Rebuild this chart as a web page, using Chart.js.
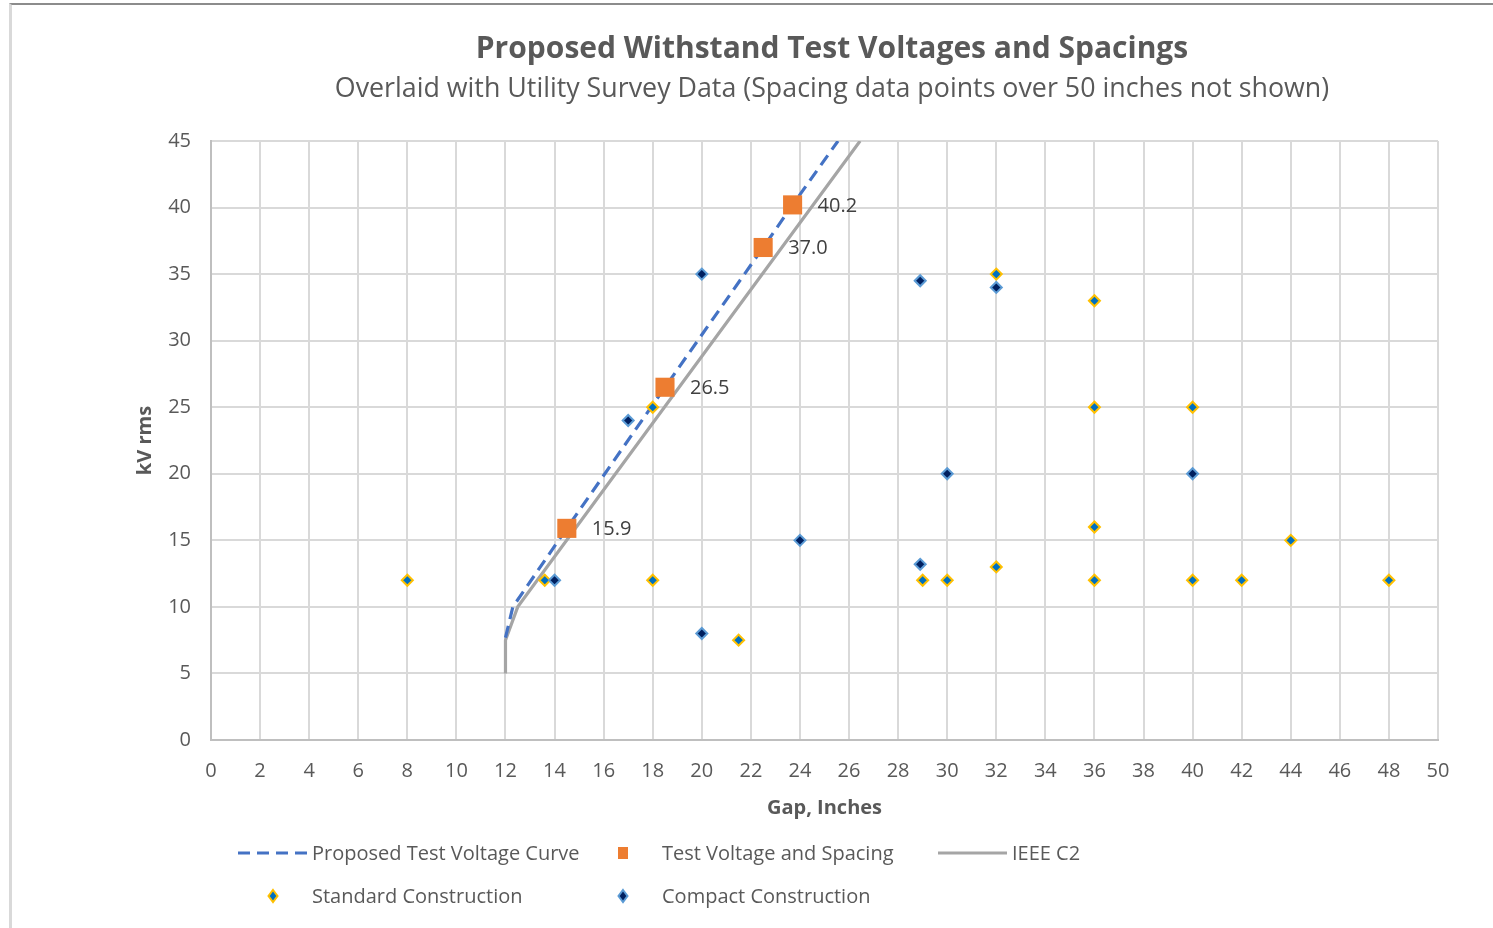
<!DOCTYPE html>
<html>
<head>
<meta charset="utf-8">
<title>Proposed Withstand Test Voltages and Spacings</title>
<script src="https://cdn.jsdelivr.net/npm/chart.js@4.4.0/dist/chart.umd.min.js"></script>
<style>
    html, body { margin: 0; padding: 0; background: #fff; }
    #wrap { position: absolute; left: 0; top: 0; width: 1493px; height: 928px; }
    #frame { position: absolute; left: 9px; top: 3px; right: 0; bottom: 0;
             border-top: 2px solid #8c8c8c; border-left: 3px solid #d9d9d9; }
    canvas { position: absolute; left: 0; top: 0; }
</style>
</head>
<body>
<div id="wrap">
    <div id="frame"></div>
    <canvas id="chart" width="1493" height="928"></canvas>
</div>
<script>
// ---- data ----
const proposedGap = [12, 12.3, 14.5, 18.5, 22.5, 23.7, 25.55];
const proposedKv  = [7.7, 10, 15.9, 26.5, 37.0, 40.2, 45];

const testGap = [14.5, 18.5, 22.5, 23.7];
const testKv  = [15.9, 26.5, 37.0, 40.2];

const ieeeGap = [12, 12, 12.5, 26.45];
const ieeeKv  = [5, 7.5, 10, 45];

const standardGap = [8, 13.6, 18, 18, 21.5, 29, 30, 32, 32, 36, 36, 36, 36, 40, 40, 42, 44, 48];
const standardKv  = [12, 12, 25, 12, 7.5, 12, 12, 35, 13, 33, 25, 16, 12, 25, 12, 12, 15, 12];

const compactGap = [14, 17, 20, 20, 24, 28.9, 28.9, 30, 32, 40];
const compactKv  = [12, 24, 35, 8, 15, 34.5, 13.2, 20, 34, 20];

const chartTitle = 'Proposed Withstand Test Voltages and Spacings';
const chartSubtitle = 'Overlaid with Utility Survey Data (Spacing data points over 50 inches not shown)';

const toPoints = (xs, ys) => xs.map((x, i) => ({ x: x, y: ys[i] }));

const FONT = "'Open Sans', 'Noto Sans', sans-serif";
const TEXT = '#595959';

// titles, data labels and the two-row legend
const decorations = {
    id: 'decorations',
    afterDatasetsDraw(chart) {
        const ctx = chart.ctx;
        ctx.save();
        // value labels next to the orange squares
        ctx.font = '20px ' + FONT;
        ctx.fillStyle = '#404040';
        ctx.textAlign = 'left';
        ctx.textBaseline = 'middle';
        chart.getDatasetMeta(1).data.forEach((el, i) => {
            ctx.fillText(testKv[i].toFixed(1), el.x + 25, el.y + 1);
        });
        ctx.restore();
    },
    afterDraw(chart) {
        const ctx = chart.ctx;
        ctx.save();
        ctx.fillStyle = TEXT;
        ctx.textAlign = 'center';
        ctx.textBaseline = 'middle';
        ctx.font = 'bold 30px ' + FONT;
        ctx.fillText(chartTitle, 832, 49);
        ctx.font = '26.8px ' + FONT;
        ctx.fillText(chartSubtitle, 832, 89);

        // legend (grid like the original)
        const cols = [238, 588, 938];
        const rows = [853, 896];
        const items = [
            { ds: 0, col: 0, row: 0, kind: 'line' },
            { ds: 1, col: 1, row: 0, kind: 'square' },
            { ds: 2, col: 2, row: 0, kind: 'line' },
            { ds: 3, col: 0, row: 1, kind: 'diamond' },
            { ds: 4, col: 1, row: 1, kind: 'diamond' }
        ];
        items.forEach(it => {
            const ds = chart.data.datasets[it.ds];
            const x0 = cols[it.col];
            const y = rows[it.row];
            const cx = x0 + 35;
            ctx.save();
            if (it.kind === 'line') {
                ctx.strokeStyle = ds.borderColor;
                ctx.lineWidth = ds.borderWidth;
                ctx.setLineDash(ds.borderDash || []);
                ctx.beginPath();
                ctx.moveTo(x0, y);
                ctx.lineTo(x0 + 69, y);
                ctx.stroke();
            } else if (it.kind === 'square') {
                ctx.fillStyle = ds.backgroundColor;
                ctx.fillRect(cx - 5, y - 6, 10, 12);
            } else {
                ctx.fillStyle = ds.backgroundColor;
                ctx.strokeStyle = ds.borderColor;
                ctx.lineWidth = 2;
                ctx.beginPath();
                ctx.moveTo(cx, y - 6);
                ctx.lineTo(cx + 4.5, y);
                ctx.lineTo(cx, y + 6);
                ctx.lineTo(cx - 4.5, y);
                ctx.closePath();
                ctx.fill();
                ctx.stroke();
            }
            ctx.restore();
            ctx.font = '20px ' + FONT;
            ctx.fillStyle = TEXT;
            ctx.textAlign = 'left';
            ctx.textBaseline = 'middle';
            ctx.fillText(ds.label, x0 + 74, y + 1);
        });
        ctx.restore();
    }
};

new Chart(document.getElementById('chart').getContext('2d'), {
    type: 'scatter',
    data: {
        datasets: [
            {
                label: 'Proposed Test Voltage Curve',
                data: toPoints(proposedGap, proposedKv),
                showLine: true,
                borderColor: '#4472C4',
                backgroundColor: '#4472C4',
                borderWidth: 3.2,
                borderDash: [12, 7],
                pointRadius: 0,
                order: 4
            },
            {
                label: 'Test Voltage and Spacing',
                data: toPoints(testGap, testKv),
                pointStyle: 'rect',
                pointRadius: 13.5,
                backgroundColor: '#ED7D31',
                borderColor: '#ED7D31',
                borderWidth: 0,
                order: 1
            },
            {
                label: 'IEEE C2',
                data: toPoints(ieeeGap, ieeeKv),
                showLine: true,
                borderColor: '#A5A5A5',
                backgroundColor: '#A5A5A5',
                borderWidth: 3.2,
                pointRadius: 0,
                order: 5
            },
            {
                label: 'Standard Construction',
                data: toPoints(standardGap, standardKv),
                pointStyle: 'rectRot',
                pointRadius: 5.5,
                backgroundColor: '#0070C0',
                borderColor: '#FFC000',
                borderWidth: 2,
                order: 3
            },
            {
                label: 'Compact Construction',
                data: toPoints(compactGap, compactKv),
                pointStyle: 'rectRot',
                pointRadius: 5.5,
                backgroundColor: '#002060',
                borderColor: '#5B9BD5',
                borderWidth: 2,
                order: 2
            }
        ]
    },
    options: {
        responsive: false,
        animation: false,
        layout: { padding: { left: 120, right: 55, top: 141, bottom: 103 } },
        plugins: {
            legend: { display: false },
            tooltip: { enabled: false },
            title: { display: false }
        },
        scales: {
            x: {
                type: 'linear',
                min: 0,
                max: 50,
                ticks: { stepSize: 2, padding: 19, color: TEXT, font: { family: FONT, size: 20 } },
                grid: { color: '#d9d9d9', lineWidth: 2, drawTicks: false },
                border: { color: '#bfbfbf', width: 2 },
                title: {
                    display: true,
                    text: 'Gap, Inches',
                    color: TEXT,
                    font: { family: FONT, size: 20, weight: 'bold' },
                    padding: { top: 0, bottom: 5 }
                },
                afterFit(scale) { scale.height = 85; }
            },
            y: {
                type: 'linear',
                min: 0,
                max: 45,
                ticks: { stepSize: 5, padding: 20, color: TEXT, font: { family: FONT, size: 20 } },
                grid: { color: '#d9d9d9', lineWidth: 2, drawTicks: false },
                border: { color: '#bfbfbf', width: 2 },
                title: {
                    display: true,
                    text: 'kV rms',
                    color: TEXT,
                    font: { family: FONT, size: 20, weight: 'bold' },
                    padding: { top: 13, bottom: 0 }
                },
                afterFit(scale) { scale.width = 91; }
            }
        }
    },
    plugins: [decorations]
});
</script>
</body>
</html>
